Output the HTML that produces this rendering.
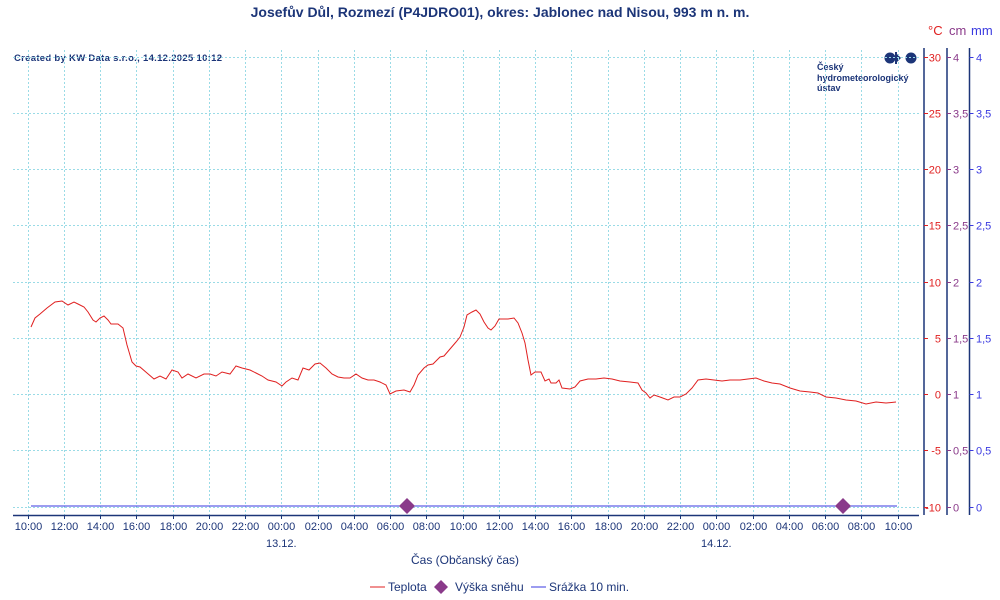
<!DOCTYPE html>
<html><head><meta charset="utf-8"><style>
html,body{margin:0;padding:0;background:#fff;width:1000px;height:600px;overflow:hidden}
svg{display:block;font-family:"Liberation Sans",sans-serif}
</style></head><body>
<svg width="1000" height="600" viewBox="0 0 1000 600">
<rect width="1000" height="600" fill="#fff"/>
<text x="500" y="17" text-anchor="middle" font-size="14" font-weight="bold" fill="#1c3578">Josefův Důl, Rozmezí (P4JDRO01), okres: Jablonec nad Nisou, 993 m n. m.</text>
<text x="928" y="35" font-size="13" fill="#e02020">°C</text>
<text x="949" y="35" font-size="13" fill="#8a3a8a">cm</text>
<text x="971" y="35" font-size="13" fill="#3a3ae0">mm</text>
<text x="14" y="61" font-size="9.5" font-weight="bold" fill="#1c3578" textLength="208">Created by KW Data s.r.o., 14.12.2025 10:12</text>
<g fill="#1c3578"><circle cx="890" cy="58" r="5.5"/><path d="M895 52 L901 58 L895 64 Z" /><rect x="895" y="52" width="2" height="12"/><circle cx="911" cy="58" r="5.5"/></g>
<text font-size="9" font-weight="bold" fill="#1c3578"><tspan x="817" y="70">Český</tspan><tspan x="817" y="81">hydrometeorologický</tspan><tspan x="817" y="91">ústav</tspan></text>
<g stroke="#9adbe6" stroke-width="1" stroke-dasharray="2,2" fill="none" id="grid"></g>
<line x1="13" y1="515.5" x2="919" y2="515.5" stroke="#1c3578" stroke-width="1.5"/>
<g stroke="#1c3578" stroke-width="1.5"><line x1="924" y1="48" x2="924" y2="515"/><line x1="947" y1="48" x2="947" y2="515"/><line x1="969.5" y1="48" x2="969.5" y2="515"/></g>
<g id="ticks" font-size="11"></g>
<g id="xt" font-size="11" fill="#1c3578" text-anchor="middle"></g>
<text x="266" y="547" font-size="11" fill="#1c3578">13.12.</text>
<text x="701" y="547" font-size="11" fill="#1c3578">14.12.</text>
<text x="465" y="564" text-anchor="middle" font-size="12" fill="#1c3578">Čas (Občanský čas)</text>
<line x1="31" y1="506" x2="897" y2="506" stroke="#3a3ae0" stroke-width="1"/>
<polyline fill="none" stroke="#e02020" stroke-width="1" points="31,327 35,318 40,314 47,308 55,302 62,301 68,305 74,302 78,304 84,307 88,312 93,320 96,322 100,318 104,316 108,320 111,324 118,324 123,328 127,345 132,362 136,366 140,367 147,373 154,379 160,376 166,379 172,370 178,372 182,378 188,374 196,378 204,374 210,374 216,376 222,372 230,374 236,366 242,368 250,370 256,373 262,376 268,380 276,382 282,386 286,382 292,378 298,380 303,368 309,370 315,364 320,363 326,368 332,374 338,377 344,378 350,378 356,374 362,378 368,380 374,380 380,382 386,385 390,394 396,391 404,390 410,392 414,385 418,375 424,368 428,365 433,364 436,361 440,357 444,356 450,349 456,342 460,337 464,327 467,315 472,312 476,310 480,314 484,322 488,328 491,330 495,326 499,319 505,319 508,319 514,318 518,323 522,333 525,343 528,360 531,375 535,372 541,372 545,381 549,379 551,383 556,383 559,380 562,388 570,389 575,387 580,381 588,379 596,379 604,378 612,379 620,381 630,382 638,383 642,390 646,393 650,398 654,395 660,397 668,400 674,397 680,397 686,394 692,388 698,380 706,379 714,380 722,381 730,380 740,380 748,379 756,378 764,381 772,383 780,384 790,388 800,391 810,392 818,393 826,397 836,398 846,400 856,401 866,404 876,402 886,403 896,402"/>
<g fill="#8a3a8a"><path d="M407 498 L415 506 L407 514 L399 506 Z"/><path d="M843 498 L851 506 L843 514 L835 506 Z"/></g>
<line x1="370" y1="587" x2="385" y2="587" stroke="#e02020"/>
<text x="388" y="591" font-size="12" fill="#1c3578">Teplota</text>
<path d="M441 580 L448 587 L441 594 L434 587 Z" fill="#8a3a8a"/>
<text x="455" y="591" font-size="12" fill="#1c3578">Výška sněhu</text>
<line x1="531" y1="587" x2="546" y2="587" stroke="#3a3ae0"/>
<text x="549" y="591" font-size="12" fill="#1c3578">Srážka 10 min.</text>
</svg>
<script>
var ns="http://www.w3.org/2000/svg",g=document.getElementById("grid"),tk=document.getElementById("ticks"),xt=document.getElementById("xt");
function el(p,t,a,txt){var e=document.createElementNS(ns,t);for(var k in a)e.setAttribute(k,a[k]);if(txt!=null)e.textContent=txt;p.appendChild(e);return e;}
var cl=["30","25","20","15","10","5","0","-5","-10"],sl=["4","3,5","3","2,5","2","1,5","1","0,5","0"];
for(var i=0;i<9;i++){var y=56.5+i*56.25;y=Math.round(y)+0.5;
el(g,"line",{x1:13,y1:y,x2:919,y2:y});
el(tk,"line",{x1:924,y1:y,x2:928,y2:y,stroke:"#e02020"});
el(tk,"line",{x1:947,y1:y,x2:951,y2:y,stroke:"#8a3a8a"});
el(tk,"line",{x1:969.5,y1:y,x2:973.5,y2:y,stroke:"#3a3ae0"});
el(tk,"text",{x:941,y:y+4,"text-anchor":"end",fill:"#e02020"},cl[i]);
el(tk,"text",{x:953,y:y+4,fill:"#8a3a8a"},sl[i]);
el(tk,"text",{x:976,y:y+4,fill:"#3a3ae0"},sl[i]);}
for(var k=0;k<25;k++){var x=Math.round(27.5+k*36.25)+0.5;
el(g,"line",{x1:x,y1:50,x2:x,y2:515});
el(xt,"line",{x1:x,y1:515,x2:x,y2:519,stroke:"#1c3578"});
var h=(10+2*k)%24;el(xt,"text",{x:x,y:530},(h<10?"0":"")+h+":00");}
</script>
</body></html>
